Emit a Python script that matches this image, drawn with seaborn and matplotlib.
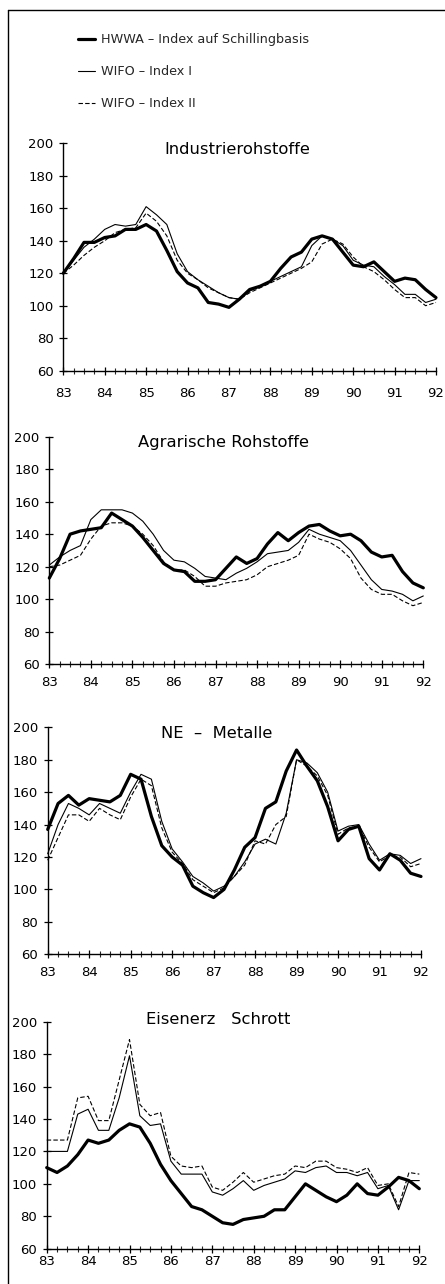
import numpy as np
import pandas as pd
import matplotlib
matplotlib.use("Agg")
import matplotlib.pyplot as plt
from matplotlib.lines import Line2D
import seaborn as sns

sns.set_theme(style="white")
plt.rcParams['font.family'] = ['DejaVu Sans']

# ---------------- data (quarterly, 1983 Q1 .. 1992 Q1) ----------------
year_labels = ["83", "84", "85", "86", "87", "88", "89", "90", "91", "92"]
series_names = ["HWWA – Index auf Schillingbasis", "WIFO – Index I", "WIFO – Index II"]
panel_titles = ["Industrierohstoffe", "Agrarische Rohstoffe", "NE  –  Metalle", "Eisenerz   Schrott"]

ind_hwwa = [120, 129, 139, 139, 142, 143, 147, 147, 150, 146, 134, 121, 114, 111, 102, 101, 99,
            104, 110, 112, 115, 123, 130, 133, 141, 143, 141, 133, 125, 124, 127, 121, 115, 117,
            116, 110, 105]
ind_wifo1 = [120, 128, 136, 141, 147, 150, 149, 150, 161, 156, 150, 132, 121, 116, 112, 108, 105,
             104, 109, 112, 115, 118, 121, 124, 137, 143, 141, 137, 128, 125, 124, 118, 113, 107,
             107, 102, 104]
ind_wifo2 = [120, 125, 131, 136, 140, 145, 147, 148, 157, 152, 143, 128, 120, 116, 111, 108, 105,
             104, 108, 111, 114, 117, 120, 123, 127, 138, 141, 138, 130, 124, 121, 116, 110, 105,
             105, 100, 102]

agr_hwwa = [113, 125, 140, 142, 143, 144, 153, 149, 145, 138, 130, 122, 118, 117, 111, 111, 112,
            119, 126, 122, 125, 134, 141, 136, 141, 145, 146, 142, 139, 140, 136, 129, 126, 127,
            117, 110, 107]
agr_wifo1 = [121, 126, 130, 133, 149, 155, 155, 155, 153, 148, 140, 130, 124, 123, 119, 114, 113,
             112, 116, 119, 123, 128, 129, 130, 135, 143, 140, 138, 136, 130, 121, 112, 106, 105,
             103, 99, 102]
agr_wifo2 = [120, 121, 124, 127, 137, 145, 147, 147, 145, 140, 133, 123, 118, 118, 114, 108, 108,
             110, 111, 112, 115, 120, 122, 124, 127, 140, 137, 135, 131, 125, 113, 106, 103, 103,
             99, 96, 98]

ne_hwwa = [137, 153, 158, 152, 156, 155, 154, 158, 171, 168, 145, 127, 120, 115, 102, 98, 95,
           100, 112, 126, 132, 150, 154, 173, 186, 176, 167, 151, 130, 137, 139, 119, 112, 122,
           118, 110, 108]
ne_wifo1 = [122, 140, 153, 150, 146, 153, 150, 147, 160, 171, 168, 142, 125, 117, 108, 104, 99,
            102, 108, 117, 128, 131, 128, 147, 180, 178, 172, 160, 136, 139, 140, 128, 118, 122,
            121, 116, 119]
ne_wifo2 = [118, 132, 146, 146, 142, 150, 146, 143, 157, 168, 164, 138, 123, 116, 106, 102, 98,
            101, 108, 115, 130, 128, 140, 145, 180, 176, 170, 158, 134, 138, 139, 126, 117, 121,
            120, 114, 116]

eis_hwwa = [110, 107, 111, 118, 127, 125, 127, 133, 137, 135, 125, 112, 102, 94, 86, 84, 80, 76,
            75, 78, 79, 80, 84, 84, 92, 100, 96, 92, 89, 93, 100, 94, 93, 98, 104, 102, 97]
eis_wifo1 = [120, 120, 120, 143, 146, 133, 133, 153, 179, 142, 136, 137, 114, 106, 106, 106, 95,
             93, 97, 102, 96, 99, 101, 103, 108, 107, 110, 111, 107, 107, 105, 107, 97, 99, 84,
             102, 102]
eis_wifo2 = [127, 127, 127, 153, 154, 139, 139, 164, 189, 149, 142, 144, 117, 111, 110, 111, 98,
             96, 101, 107, 101, 103, 105, 106, 111, 110, 114, 114, 110, 109, 107, 110, 99, 100, 86,
             107, 106]

panels = [
    (ind_hwwa, ind_wifo1, ind_wifo2),
    (agr_hwwa, agr_wifo1, agr_wifo2),
    (ne_hwwa, ne_wifo1, ne_wifo2),
    (eis_hwwa, eis_wifo1, eis_wifo2),
]

# ---------------- layout ----------------
W, H = 445, 1284
fig = plt.figure(figsize=(W / 100, H / 100), dpi=100)
fig.patch.set_facecolor("white")

# axes boxes in pixels: (left_x_at_83, right_x_at_92, y_top_200, y_bottom_60)
boxes = [
    (63.3, 436.0, 143.3, 370.7),
    (49.3, 423.3, 436.7, 664.2),
    (47.7, 421.0, 727.3, 954.3),
    (46.7, 419.3, 1021.7, 1248.7),
]
title_pos = [(237, 150), (223, 442), (217, 733), (218, 1020)]
xlabel_pad = [9, 5.5, 5.5, 1.5]

styles = [
    dict(linewidth=2.3, linestyle="-"),
    dict(linewidth=0.8, linestyle="-"),
    dict(linewidth=0.8, linestyle=(0, (4, 2))),
]

t = 83 + np.arange(37) / 4.0
handles = []
for i, (vals, (xl, xr, yt, yb)) in enumerate(zip(panels, boxes)):
    ax = fig.add_axes([xl / W, 1 - yb / H, (xr - xl) / W, (yb - yt) / H])
    ax.set_facecolor("white")
    for name, v, st in zip(series_names, vals, styles):
        df = pd.DataFrame({"t": t, "v": v})
        sns.lineplot(data=df, x="t", y="v", ax=ax, color="black", label=name, **st)
    if i == 0:
        handles = ax.get_legend_handles_labels()
    ax.get_legend().remove()
    ax.set_xlim(83, 92)
    ax.set_ylim(60, 200)
    ax.set_xlabel("")
    ax.set_ylabel("")
    ax.set_xticks(np.arange(83, 93))
    ax.set_xticklabels(year_labels)
    ax.set_xticks(np.arange(83, 92.01, 0.25), minor=True)
    ax.set_yticks(np.arange(60, 201, 20))
    ax.tick_params(axis="both", which="major", direction="inout", length=6, width=0.9,
                   labelsize=9.5, colors="black", left=True, bottom=True)
    ax.tick_params(axis="y", which="major", pad=4)
    ax.tick_params(axis="x", which="major", pad=xlabel_pad[i])
    ax.tick_params(axis="x", which="minor", direction="inout", length=5, width=0.8,
                   bottom=True)
    for s in ["top", "right"]:
        ax.spines[s].set_visible(False)
    for s in ["left", "bottom"]:
        ax.spines[s].set_color("black")
        ax.spines[s].set_linewidth(1.0)
    for ln in ax.get_lines():
        ln.set_clip_on(False)
    tx, ty = title_pos[i]
    fig.text(tx / W, 1 - ty / H, panel_titles[i], ha="center", va="center",
             fontsize=11.8, color="black")

# legend at top
h, l = handles
fig.legend(h, l, loc="upper left", bbox_to_anchor=(78 / W, 1 - 33 / H), frameon=False,
           fontsize=9.2, handlelength=1.3, handletextpad=0.5, labelspacing=1.5,
           borderaxespad=0, borderpad=0)

# page frame
fig.add_artist(Line2D([8 / W, 8 / W], [0, 1 - 10 / H], color="black", linewidth=1.0,
                      transform=fig.transFigure))
fig.add_artist(Line2D([8 / W, 1], [1 - 10 / H, 1 - 10 / H], color="black", linewidth=1.0,
                      transform=fig.transFigure))

fig.savefig("out.png", dpi=100, facecolor="white")
